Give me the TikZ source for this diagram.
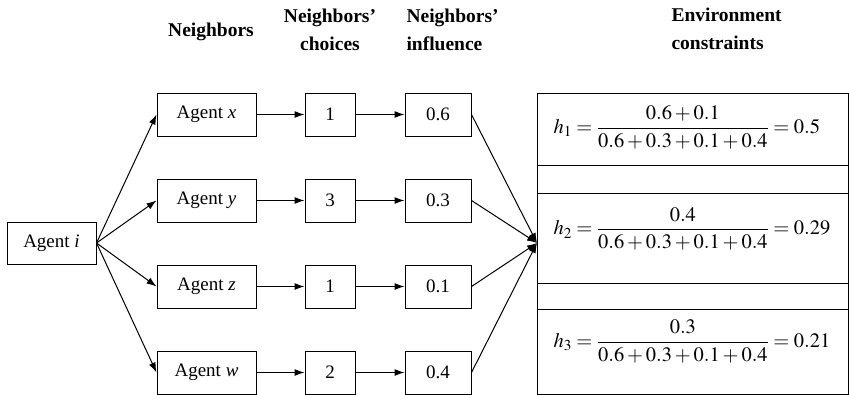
\documentclass[tikz,border=0pt]{standalone}
\usepackage{mathptmx}
\usepackage{fontspec}
\setmainfont{Liberation Serif}
\usetikzlibrary{arrows.meta,positioning}

\begin{document}
\begin{tikzpicture}[x=1pt,y=-1pt,node distance=86pt,font=\fontsize{19}{22}\selectfont]
\tikzstyle{ag}=[draw,rectangle,minimum width=99pt,minimum height=43pt,line width=1pt]
\tikzstyle{ch}=[draw,rectangle,minimum width=50pt,minimum height=43pt,line width=1pt]
\tikzstyle{inf}=[draw,rectangle,minimum width=66pt,minimum height=43pt,line width=1pt]
\tikzstyle{cbox}=[draw,rectangle,minimum width=311pt,inner sep=0pt,outer sep=0pt,line width=1pt]
\tikzstyle{hd}=[font=\fontsize{19.5}{28.5}\selectfont\bfseries]
\tikzstyle{fm}=[anchor=west,font=\fontsize{20.5}{24}\selectfont]
\tikzstyle{arr}=[-{Latex[length=10pt,width=7pt]},line width=1pt]
\useasboundingbox (0,0) rectangle (849,394);

% column heads
\node [hd] (hn) at (211,32) {Neighbors};
\node [hd,align=center] (hc) at (330,30) {Neighbors'\\choices};
\node [hd,align=left,anchor=west] (hi) at (403,30) {Neighbors'\\influence};
\node [hd,align=left,anchor=west] (he) at (668,29) {Environment\\constraints};

% agents
\node [ag,minimum width=89pt,minimum height=42pt] (i) at (51.5,243) {Agent \textit{i}};
\node [ag] (a) at (206.5,114.5) {Agent \textit{x}};
\node [ag,below of=a] (b) {Agent \textit{y}};
\node [ag,below of=b] (c) {Agent \textit{z}};
\node [ag,below of=c] (d) {Agent \textit{w}};

% choices
\node [ch,right of=a,node distance=123.5pt] (a1) {1};
\node [ch,right of=b,node distance=123.5pt] (b1) {3};
\node [ch,right of=c,node distance=123.5pt] (c1) {1};
\node [ch,right of=d,node distance=123.5pt] (d1) {2};

% influence
\node [inf,right of=a1,node distance=108pt] (a2) {0.6};
\node [inf,right of=b1,node distance=108pt] (b2) {0.3};
\node [inf,right of=c1,node distance=108pt] (c2) {0.1};
\node [inf,right of=d1,node distance=108pt] (d2) {0.4};

% constraints
\node [cbox,minimum height=72pt] (e1) at (692.5,129) {};
\node [cbox,minimum height=28pt,below=0pt of e1] (g1) {};
\node [cbox,minimum height=90pt,below=0pt of g1] (e2) {};
\node [cbox,minimum height=26pt,below=0pt of e2] (g2) {};
\node [cbox,minimum height=85pt,below=0pt of g2] (e3) {};
\node [fm] (h1) at ([xshift=13pt,yshift=2pt]e1.west) {$\displaystyle h_1=\frac{0.6+0.1}{0.6+0.3+0.1+0.4}=0.5$};
\node [fm] (h2) at ([xshift=13pt,yshift=9pt]e2.west) {$\displaystyle h_2=\frac{0.4}{0.6+0.3+0.1+0.4}=0.29$};
\node [fm] (h3) at ([xshift=13pt,yshift=10pt]e3.west) {$\displaystyle h_3=\frac{0.3}{0.6+0.3+0.1+0.4}=0.21$};
\coordinate (m) at (537,243);

\path[arr]
(i.east) edge (a.west)
(i.east) edge (b.west)
(i.east) edge (c.west)
(i.east) edge (d.west)
(a) edge (a1)
(b) edge (b1)
(c) edge (c1)
(d) edge (d1)
(a1) edge (a2)
(b1) edge (b2)
(c1) edge (c2)
(d1) edge (d2)
(a2.east) edge (m)
(b2.east) edge (m)
(c2.east) edge (m)
(d2.east) edge (m);
\end{tikzpicture}
\end{document}
